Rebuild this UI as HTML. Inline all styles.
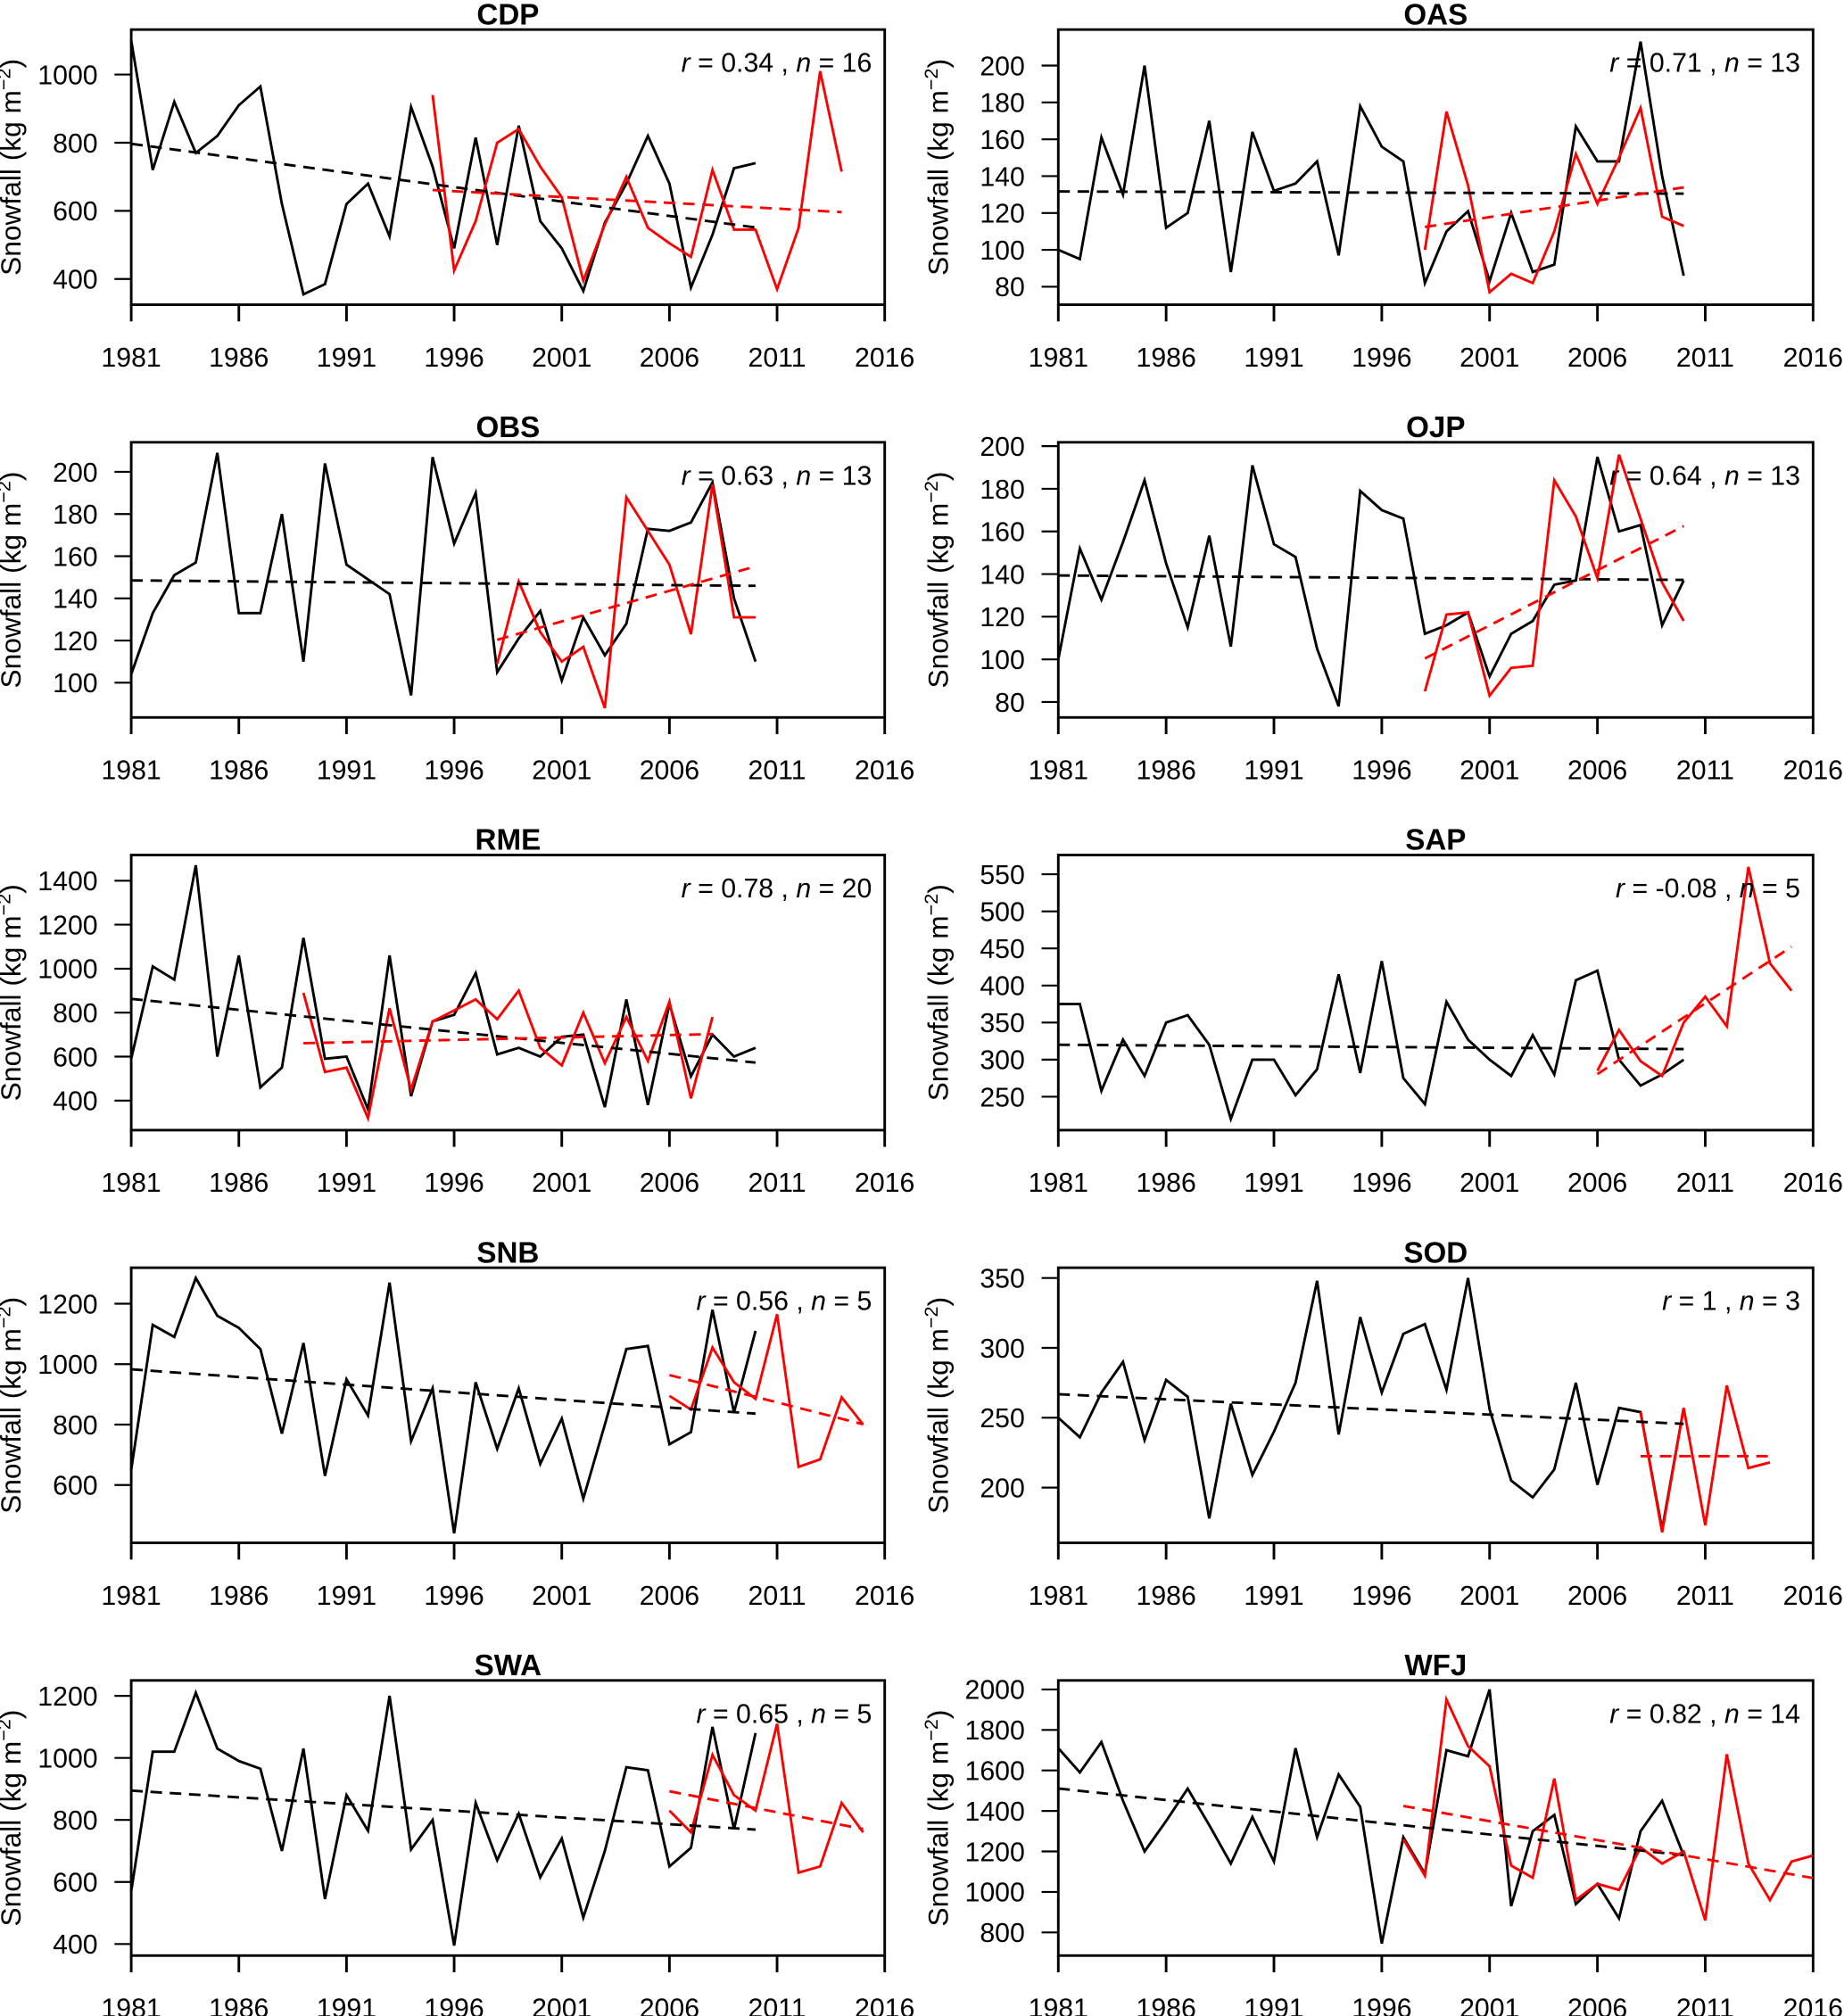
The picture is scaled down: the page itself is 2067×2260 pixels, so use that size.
<!DOCTYPE html>
<html><head><meta charset="utf-8">
<style>
html,body{margin:0;padding:0;background:#fff;}
svg{display:block;font-family:"Liberation Sans",Arial,sans-serif;}
</style></head>
<body>
<svg id="fig" xmlns="http://www.w3.org/2000/svg" width="2067" height="2260" viewBox="0 0 1434 1568"></svg>
<script>
const names = ["CDP","OAS","OBS","OJP","RME","SAP","SNB","SOD","SWA","WFJ"];
const blackStart = 1981;
const cdpBlack = [1100,720,920,770,820,910,965,620,355,385,620,680,525,905,730,490,815,500,850,570,490,365,565,680,820,680,375,530,725,740];
const cdpRedStart = 1995;
const cdpRed = [940,425,570,800,840,730,640,395,560,700,550,505,465,720,545,545,370,550,1010,715];
const oasBlack = [100,95,161,130,200,112,120,170,88,164,132,136,148,97,178,156,148,82,110,121,83,120,88,92,167,148,148,213,140,86];
const oasRedStart = 1998;
const oasRed = [100,175,135,77,87,82,110,152,125,150,177,118,113];
const obsBlack = [104,133,151,157,209,133,133,180,110,204,156,149,142,94,207,166,190,105,121,134,101,131,113,128,173,172,176,195,140,110];
const obsRedStart = 1998;
const obsRed = [109,148,124,110,117,88,188,172,156,123,194,131,131];
const ojpBlack = [100,152,128,155,184,145,115,158,106,191,154,148,105,78,179,170,166,112,116,122,92,112,118,135,137,195,160,163,116,137];
const ojpRedStart = 1998;
const ojpRed = [85,121,122,83,96,97,184,167,138,196,166,136,118];
const rmeBlack = [590,1010,950,1470,600,1060,460,550,1140,590,600,360,1060,420,760,790,980,610,640,600,690,700,370,860,380,840,510,700,600,640];
const rmeRedStart = 1989;
const rmeRed = [890,530,550,320,820,450,760,810,860,770,900,640,560,800,570,780,580,850,410,780];
const sapBlack = [375,375,258,327,278,350,360,320,220,300,300,252,287,415,282,433,275,240,378,327,300,278,333,280,407,420,300,265,280,300];
const sapRedStart = 2006;
const sapRed = [285,340,298,278,350,385,345,560,430,393];
const snbBlack = [650,1130,1090,1285,1160,1120,1050,770,1070,630,950,830,1270,745,920,440,940,720,920,670,820,555,800,1050,1060,735,775,1180,840,1110];
const snbRedStart = 2006;
const snbRed = [895,850,1055,940,885,1165,660,685,890,800];
const sodBlack = [250,236,268,290,234,277,265,178,260,209,240,275,348,238,322,268,310,317,270,350,256,205,193,213,275,202,257,254,170,257];
const sodRedStart = 2008;
const sodRed = [254,168,257,173,273,214,218];
const swaBlack = [570,1020,1020,1210,1030,990,965,700,1030,545,880,765,1200,705,800,395,855,670,820,615,740,485,700,970,960,650,710,1100,770,1080];
const swaRedStart = 2006;
const swaRed = [830,760,1010,880,830,1110,630,650,855,760];
const wfjBlack = [1710,1590,1740,1450,1200,1350,1510,1330,1140,1370,1150,1710,1270,1580,1420,745,1270,1090,1700,1670,2000,930,1300,1380,940,1040,870,1300,1450,1180];
const wfjRedStart = 1997;
const wfjRed = [1260,1080,1950,1720,1620,1130,1070,1560,960,1040,1010,1220,1140,1200,860,1680,1140,960,1150,1180];
const rValues = ["0.34","0.71","0.63","0.64","0.78","-0.08","0.56","1","0.65","0.82"];
const nValues = ["16","13","13","13","20","5","5","3","5","14"];
const xTicks = [1981,1986,1991,1996,2001,2006,2011,2016];
const yTicksCDP=[400,600,800,1000], yTicksOAS=[80,100,120,140,160,180,200], yTicksOBS=[100,120,140,160,180,200],
 yTicksOJP=[80,100,120,140,160,180,200], yTicksRME=[400,600,800,1000,1200,1400], yTicksSAP=[250,300,350,400,450,500,550],
 yTicksSNB=[600,800,1000,1200], yTicksSOD=[200,250,300,350], yTicksSWA=[400,600,800,1000,1200], yTicksWFJ=[800,1000,1200,1400,1600,1800,2000];

const blacks=[cdpBlack,oasBlack,obsBlack,ojpBlack,rmeBlack,sapBlack,snbBlack,sodBlack,swaBlack,wfjBlack];
const reds=[cdpRed,oasRed,obsRed,ojpRed,rmeRed,sapRed,snbRed,sodRed,swaRed,wfjRed];
const redStarts=[cdpRedStart,oasRedStart,obsRedStart,ojpRedStart,rmeRedStart,sapRedStart,snbRedStart,sodRedStart,swaRedStart,wfjRedStart];
const yTicks=[yTicksCDP,yTicksOAS,yTicksOBS,yTicksOJP,yTicksRME,yTicksSAP,yTicksSNB,yTicksSOD,yTicksSWA,yTicksWFJ];
// layout: [low tick pixel offset from box top, high tick pixel offset]
const anchors=[[194,35],[200,28],[187,23],[202,3],[191,20],[188,15],[169,28],[171,8],[205,12],[196,7]];

const NS="http://www.w3.org/2000/svg";
const svg=document.getElementById('fig');
function mk(tag,attrs,parent){const e=document.createElementNS(NS,tag);for(const k in attrs)e.setAttribute(k,attrs[k]);(parent||svg).appendChild(e);return e;}
function fit(xs,ys){const n=xs.length;let mx=0,my=0;for(let i=0;i<n;i++){mx+=xs[i];my+=ys[i];}mx/=n;my/=n;let sxy=0,sxx=0;for(let i=0;i<n;i++){sxy+=(xs[i]-mx)*(ys[i]-my);sxx+=(xs[i]-mx)**2;}const b=sxy/sxx;return [b,my-b*mx];}

for(let p=0;p<10;p++){
  const col=p%2,row=Math.floor(p/2);
  const L=col?823:102,R=col?1410:688,T=23+row*321,B=237+row*321;
  const g=mk('g',{});
  
  
  const xs=y=>L+(y-1981)*(R-L)/35;
  const yt=yTicks[p];const lo=yt[0],hi=yt[yt.length-1];
  const a=anchors[p];
  const ys=v=>T+a[0]+(v-lo)*(a[1]-a[0])/(hi-lo);
  const box=mk('rect',{x:L,y:T,width:R-L,height:B-T,fill:'none',stroke:'#000','stroke-width':2},g);
  
  
  const title=mk('text',{x:(L+R)/2,y:T-4,'text-anchor':'middle','font-size':23,'font-weight':'bold'},g);
  title.textContent=names[p];
  
  
  xTicks.forEach(t=>{
    mk('line',{x1:xs(t),x2:xs(t),y1:B,y2:B+13,stroke:'#000','stroke-width':2},g);
    const tx=mk('text',{x:xs(t),y:B+48,'text-anchor':'middle','font-size':21},g);
    tx.textContent=t;
    
    
  });
  yt.forEach(t=>{
    mk('line',{x1:L-13,x2:L,y1:ys(t),y2:ys(t),stroke:'#000','stroke-width':1.5},g);
    const tx=mk('text',{x:L-26,y:ys(t)+7.5,'text-anchor':'end','font-size':21},g);
    tx.textContent=t;
    
    
  });
  const yl=mk('text',{x:0,y:0,transform:`translate(${L-86},${(T+B)/2}) rotate(-90)`,'text-anchor':'middle','font-size':22},g);
  yl.innerHTML='Snowfall (kg m<tspan dy="-8" font-size="15">−2</tspan><tspan dy="8">)</tspan>';
  
  
  const bx=blacks[p].map((v,i)=>blackStart+i), rx=reds[p].map((v,i)=>redStarts[p]+i);
  const bl=mk('polyline',{points:blacks[p].map((v,i)=>xs(bx[i])+','+ys(v)).join(' '),fill:'none',stroke:'#000','stroke-width':2},g);
  
  
  const rl=mk('polyline',{points:reds[p].map((v,i)=>xs(rx[i])+','+ys(v)).join(' '),fill:'none',stroke:'#f00','stroke-width':2},g);
  
  
  const fb=fit(bx,blacks[p]),fr=fit(rx,reds[p]);
  const bt=mk('line',{x1:xs(bx[0]),y1:ys(fb[1]+fb[0]*bx[0]),x2:xs(bx[bx.length-1]),y2:ys(fb[1]+fb[0]*bx[bx.length-1]),stroke:'#000','stroke-width':2,'stroke-dasharray':'9,6'},g);
  
  
  const rt=mk('line',{x1:xs(rx[0]),y1:ys(fr[1]+fr[0]*rx[0]),x2:xs(rx[rx.length-1]),y2:ys(fr[1]+fr[0]*rx[rx.length-1]),stroke:'#f00','stroke-width':2,'stroke-dasharray':'9,6'},g);
  
  
  const an=mk('text',{x:R-10,y:T+33,'text-anchor':'end','font-size':21},g);
  an.innerHTML=`<tspan font-style="italic">r</tspan> = ${rValues[p]} , <tspan font-style="italic">n</tspan> = ${nValues[p]}`;
  
  
}
</script>
</body></html>
